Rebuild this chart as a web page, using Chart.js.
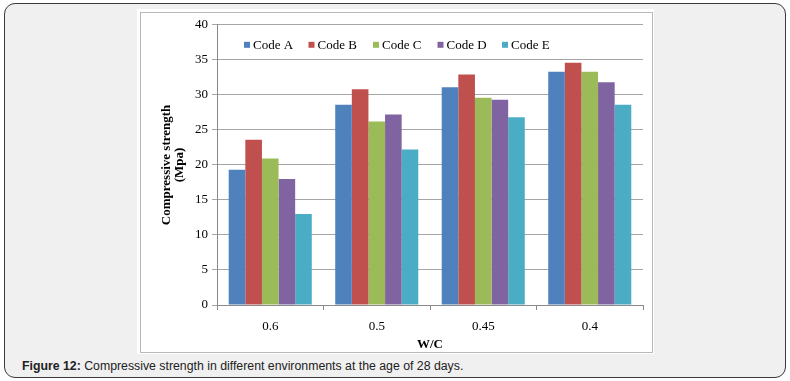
<!DOCTYPE html>
<html>
<head>
<meta charset="utf-8">
<script src="https://cdn.jsdelivr.net/npm/chart.js@4/dist/chart.umd.min.js"></script>
<style>
  html, body { margin: 0; padding: 0; background: #ffffff; }
  body { width: 790px; height: 381px; position: relative; overflow: hidden; }
  #frame { position: absolute; left: 4px; top: 3px; width: 782px; height: 375px; box-sizing: border-box;
           border: 1.5px solid #3a3a3a; border-radius: 11px; background: #f0f0f0; }
  #panel { position: absolute; left: 137px; top: 9px; width: 517px; height: 345px; background: #ffffff; }
  #inner { position: absolute; left: 140px; top: 12px; width: 513px; height: 341px; box-sizing: border-box;
           border: 1px solid #b8b8b8; background: #ffffff; }
  #c { position: absolute; left: 141px; top: 13px; }
  #caption { position: absolute; left: 22px; top: 359px; font-family: "Liberation Sans", Arial, sans-serif;
             font-size: 12.3px; color: #222; white-space: nowrap; }
</style>
</head>
<body>
<div id="frame"></div>
<div id="panel"></div>
<div id="inner"></div>
<canvas id="c" width="511" height="339"></canvas>
<div id="caption"><b>Figure 12:</b> Compressive strength in different environments at the age of 28 days.</div>
<script>
const categories = ["0.6", "0.5", "0.45", "0.4"];
const seriesNames = ["Code A", "Code B", "Code C", "Code D", "Code E"];
const codeA = [19.3, 28.6, 31.1, 33.3];
const codeB = [23.6, 30.8, 32.9, 34.6];
const codeC = [20.9, 26.2, 29.6, 33.3];
const codeD = [18.0, 27.2, 29.3, 31.8];
const codeE = [13.0, 22.2, 26.8, 28.6];
const colors = ["#4f81bd", "#c0504d", "#9bbb59", "#8064a2", "#4bacc6"];
const yTicks = [0, 5, 10, 15, 20, 25, 30, 35, 40];

const values = [codeA, codeB, codeC, codeD, codeE];
const datasets = seriesNames.map((n, i) => ({
  label: n, data: values[i], backgroundColor: colors[i], borderWidth: 0,
  categoryPercentage: 0.78, barPercentage: 1.0
}));

const legendPlugin = {
  id: 'insideLegend',
  afterDatasetsDraw(chart) {
    const ctx = chart.ctx;
    const ca = chart.chartArea;
    ctx.save();
    ctx.font = '13px "Liberation Serif", "Times New Roman", serif';
    ctx.textBaseline = 'middle';
    ctx.fillStyle = '#000';
    const y = ca.top + 20;
    chart.data.datasets.forEach((ds, i) => {
      const x = ca.left + 27 + i * 64.5;
      ctx.fillStyle = ds.backgroundColor;
      ctx.fillRect(x, y - 3, 6, 6);
      ctx.fillStyle = '#000';
      ctx.fillText(ds.label, x + 9, y + 1);
    });
    ctx.restore();
  }
};

new Chart(document.getElementById('c'), {
  type: 'bar',
  data: { labels: categories, datasets },
  options: {
    responsive: false, animation: false, devicePixelRatio: 1,
    layout: { padding: { left: 19, right: 9, top: 10, bottom: 0 } },
    plugins: { legend: { display: false }, tooltip: { enabled: false } },
    scales: {
      x: {
        grid: { display: true, drawOnChartArea: false, offset: true, tickLength: 5, color: '#8a8a8a' },
        border: { display: true, color: '#8a8a8a', width: 1 },
        ticks: { color: '#000', padding: 9, font: { family: '"Liberation Serif", serif', size: 13 } },
        title: { display: true, text: 'W/C', color: '#000', padding: { top: 0, bottom: 0 },
                 font: { family: '"Liberation Serif", serif', size: 13, weight: 'bold' } },
        afterFit(s) { s.height = 47; }
      },
      y: {
        min: 0, max: 40,
        afterBuildTicks(s) { s.ticks = yTicks.map(v => ({ value: v })); },
        grid: { color: '#a6a6a6', tickLength: 5, drawTicks: true },
        border: { display: true, color: '#8a8a8a', width: 1 },
        ticks: { color: '#000', padding: 4, font: { family: '"Liberation Serif", serif', size: 13 } },
        title: { display: true, text: ['Compressive strength', '(Mpa)'], color: '#000', padding: { top: 0, bottom: 0 },
                 font: { family: '"Liberation Serif", serif', size: 13, weight: 'bold', lineHeight: 1.0 } },
        afterFit(s) { s.width = 57; }
      }
    }
  },
  plugins: [legendPlugin]
});
</script>
</body>
</html>
